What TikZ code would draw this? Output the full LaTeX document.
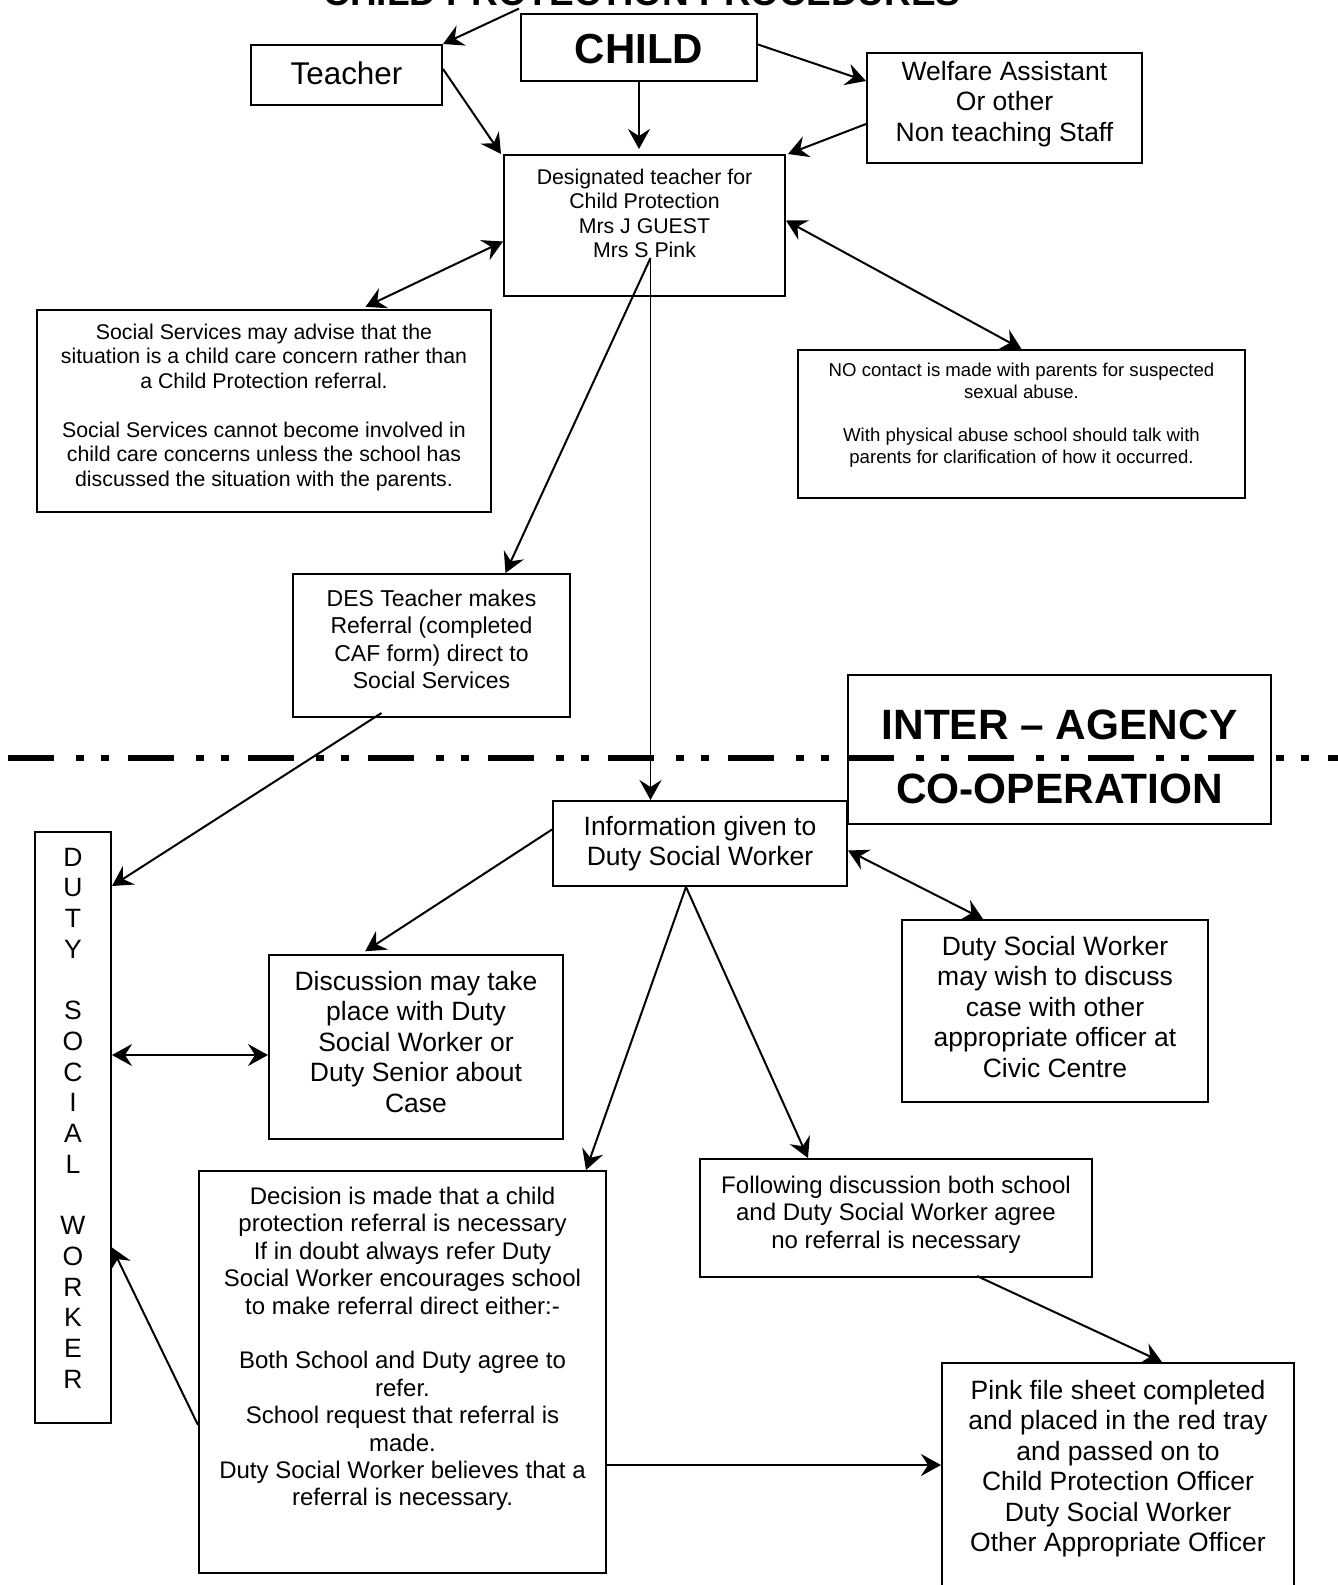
\documentclass[tikz,border=0pt]{standalone}
\usepackage{fontspec}
\setmainfont{Liberation Sans}
\usetikzlibrary{arrows.meta}
\newcommand{\boxtext}[4]{\parbox[c][#2pt][t]{#1pt}{\centering\vspace*{#3pt}#4}}
\tikzset{
  box/.style={draw, line width=2pt, inner sep=0pt},
  link/.style={line width=2pt, -{Stealth[length=20pt, width=22pt, inset=7pt]}},
  twoway/.style={line width=2pt, {Stealth[length=20pt, width=22pt, inset=7pt]}-{Stealth[length=20pt, width=22pt, inset=7pt]}},
  txtS/.style={font=\fontsize{18.6}{21.7}\selectfont},
  txtM/.style={font=\fontsize{21.3}{24.5}\selectfont},
  txtL/.style={font=\fontsize{24}{27.4}\selectfont},
  txtXL/.style={font=\fontsize{26.5}{30.5}\selectfont},
  heavy/.style={font=\fontsize{42.4}{63.4}\selectfont\bfseries}
}
\begin{document}
\begin{tikzpicture}[x=1pt, y=-1pt]
      \useasboundingbox (0,0) rectangle (1338,1585);
      \clip (0,0) rectangle (1338,1585);
      \node [font=\fontsize{37}{44}\selectfont\bfseries, inner sep=0pt, anchor=base] (title) at (642,5) {CHILD PROTECTION PROCEDURES};
      \node [box, font=\fontsize{31.4}{36}\selectfont] (teacher) at (346.5,75) {\boxtext{191}{60}{17}{Teacher}};
      \node [box, font=\fontsize{42}{50}\selectfont\bfseries] (child) at (639,47.5) {\boxtext{236}{67}{20}{CHILD}};
      \node [box, txtXL] (welfare) at (1004.5,108) {\boxtext{275}{110}{8}{Welfare Assistant\\Or other\\Non teaching Staff}};
      \node [box, txtM] (desig) at (644.5,225.5) {\boxtext{281}{141}{14}{Designated teacher for\\Child Protection\\Mrs J GUEST\\Mrs S Pink}};
      \node [box, txtM] (socserv) at (264,411) {\boxtext{454}{202}{14}{Social Services may advise that the\\situation is a child care concern rather than\\a Child Protection referral.\\[24.5pt]Social Services cannot become involved in\\child care concerns unless the school has\\discussed the situation with the parents.}};
      \node [box, txtS] (nocontact) at (1021.5,424) {\boxtext{447}{148}{13}{NO contact is made with parents for suspected\\sexual abuse.\\[21.7pt]With physical abuse school should talk with\\parents for clarification of how it occurred.}};
      \node [box, font=\fontsize{23}{27.3}\selectfont] (des) at (431.5,645.5) {\boxtext{277}{143}{16}{DES Teacher makes\\Referral (completed\\CAF form) direct to\\Social Services}};
      \draw [line width=6pt, dash pattern=on 46pt off 22pt on 8pt off 17pt on 8pt off 19pt] (8,758) -- (1338,758);
      \node [box, heavy] (agency) at (1059.5,749.5) {\boxtext{423}{149}{35}{INTER -- AGENCY\\CO-OPERATION}};
      \node [box, txtXL] (info) at (700,843.5) {\boxtext{294}{85}{15}{Information given to\\Duty Social Worker}};
      \node [box, font=\fontsize{26.5}{30.7}\selectfont] (duty) at (73,1127.5) {\boxtext{76}{591}{16}{D\\U\\T\\Y\\[30.7pt]S\\O\\C\\I\\A\\L\\[30.7pt]W\\O\\R\\K\\E\\R}};
      \node [box, txtXL] (discuss) at (416,1047) {\boxtext{294}{184}{16}{Discussion may take\\place with Duty\\Social Worker or\\Duty Senior about\\Case}};
      \node [box, txtXL] (consult) at (1055,1011) {\boxtext{306}{182}{16}{Duty Social Worker\\may wish to discuss\\case with other\\appropriate officer at\\Civic Centre}};
      \node [box, txtL] (decision) at (402.5,1372) {\boxtext{407}{402}{16}{Decision is made that a child\\protection referral is necessary\\If in doubt always refer Duty\\Social Worker encourages school\\to make referral direct either:-\\[27.4pt]Both School and Duty agree to\\refer.\\School request that referral is\\made.\\Duty Social Worker believes that a\\referral is necessary.}};
      \node [box, txtL] (noref) at (896,1218) {\boxtext{392}{118}{17}{Following discussion both school\\and Duty Social Worker agree\\no referral is necessary}};
      \node [box, txtXL] (pink) at (1118,1503) {\boxtext{352}{280}{17}{Pink file sheet completed\\and placed in the red tray\\and passed on to\\Child Protection Officer\\Duty Social Worker\\Other Appropriate Officer}};
      \coordinate (desigfoot) at ([xshift=6pt, yshift=39pt]desig.south);
      \coordinate (discin) at ([yshift=-8pt]discuss.west);
      \coordinate (decout) at ([yshift=-93pt]decision.east);
      \draw [link] ([xshift=-123pt, yshift=-3pt]title.south) -- (teacher.north east);
      \draw [link] ([yshift=6pt]teacher.east) -- ([xshift=-2pt]desig.north west);
      \draw [link, shorten >=5pt] (child.south) -- (child.south |- desig.north);
      \draw [link] ([yshift=3pt]child.east) -- ([yshift=27pt]welfare.west);
      \draw [link] ([yshift=-16pt]welfare.west) -- ([xshift=2pt]desig.north east);
      \draw [twoway, shorten >=5pt] ([yshift=-16pt]desig.west) -- ([xshift=97pt]socserv.north);
      \draw [twoway] ([yshift=5pt]desig.east) -- (nocontact.north);
      \draw [link] (desigfoot) -- ([xshift=74pt]des.north);
      \draw [link, line width=1.5pt] (desigfoot) -- (desigfoot |- info.north);
      \draw [link] ([xshift=-50pt, yshift=5pt]des.south) -- ([yshift=-55pt]duty.north east);
      \draw [link, shorten >=5pt] ([yshift=14pt]info.west) -- ([xshift=-55pt]discuss.north);
      \draw [twoway] ([yshift=-7pt]info.east) -- ([xshift=-72pt]consult.north);
      \draw [link] ([xshift=-14pt]info.south) -- ([xshift=-21pt]decision.north east);
      \draw [link] ([xshift=-14pt]info.south) -- ([xshift=-88pt]noref.north);
      \draw [twoway] (discin -| duty.east) -- (discin);
      \draw [link] ([yshift=-53pt]decision.west) -- ([yshift=-120pt]duty.east);
      \draw [link] ([xshift=81pt, yshift=2pt]noref.south) -- ([xshift=44pt]pink.north);
      \draw [link] (decout) -- (decout -| pink.west);
\end{tikzpicture}
\end{document}
